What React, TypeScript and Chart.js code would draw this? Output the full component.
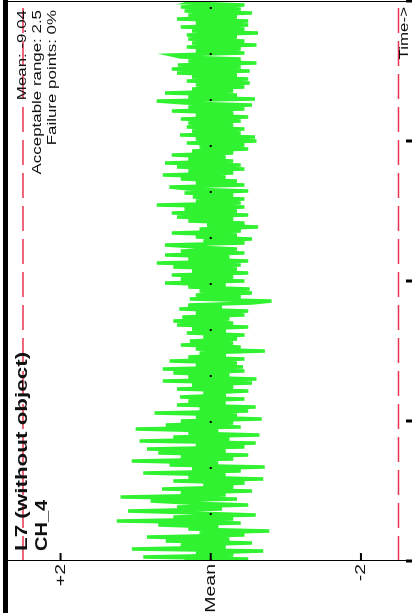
import React, { useEffect, useRef } from "react";
import { Chart, registerables } from "chart.js";

Chart.register(...registerables);

// Measured signal (deviation from mean), in time order
const series: number[] = [
  0.35, -0.5, 0.9, -0.3, 0.2, -0.7, 1.05, -0.2, 0.4, -0.55,
  0.6, -0.25, 0.85, -0.45, 0.15, -0.78, 0.3, -0.1, 0.7, -0.4,
  1.25, -0.3, 0.5, -0.6, 0.2, 1.1, -0.15, 0.45, -0.5, 0.3,
  0.8, -0.35, 1.2, -0.2, 0.4, -0.55, 0.65, -0.3, 0.1, -0.45,
  0.5, -0.7, 0.3, -0.2, 0.9, -0.4, 0.25, -0.72, 0.55, -0.1,
  1.05, -0.3, 0.4, -0.5, 0.7, -0.2, 0.85, -0.45, 0.2, -0.6,
  0.95, -0.25, 0.5, -0.65, 0.3, -0.1, 1.0, -0.4, 0.6, -0.3,
  0.4, -0.68, 0.2, -0.35, 0.75, -0.5, 0.15, -0.6, 0.45, -0.2,
  0.3, -0.45, 0.41, -0.2, 0.1, -0.5, 0.45, -0.3, 0.25, -0.55,
  0.64, -0.61, 0.3, -0.25, 0.5, -0.45, 0.64, -0.43, 0.2, -0.35,
  0.55, -0.45, 0.3, -0.2, 0.15, -0.72, 0.2, -0.4, 0.4, -0.3,
  0.28, -0.35, 0.1, -0.45, 0.32, -0.2, 0.25, -0.5, 0.45, -0.3,
  0.5, -0.25, 0.38, -0.45, 0.2, -0.5, 0.42, -0.15, 0.3, -0.55,
  -0.81, 0.28, -0.4, 0.2, -0.55, 0.15, -0.52, 0.3, -0.2, 0.61,
  -0.45, 0.4, -0.3, 0.52, -0.5, 0.25, -0.35, 0.5, -0.4, 0.72,
  -0.5, 0.3, -0.25, 0.61, -0.45, 0.4, -0.35, 0.2, 0.61, -0.45,
  0.1, -0.55, 0.2, -0.35, 0.52, -0.4, 0.15, -0.63, 0.05, -0.45,
  0.3, -0.3, 0.45, -0.5, 0.52, -0.35, 0.35, -0.45, 0.72, -0.4,
  0.2, -0.45, 0.24, -0.3, 0.35, -0.5, 0.3, 0.55, -0.45, 0.2,
  -0.35, 0.4, -0.2, 0.64, -0.3, 0.3, -0.45, 0.45, -0.4, 0.61,
  -0.3, 0.3, -0.2, 0.52, -0.3, 0.25, -0.5, 0.15, -0.45, 0.32,
  -0.61, 0.2, -0.59, 0.41, -0.4, 0.25, -0.45, 0.32, -0.3, 0.3,
  -0.4, 0.4, -0.5, 0.2, -0.3, 0.52, -0.45, 0.3, -0.55, 0.35,
  0.72, -0.59, 0.3, -0.35, 0.61, -0.3, 0.25, -0.45, 0.2, -0.52,
  0.32, -0.5, 0.25, -0.35, 0.45, -0.52, 0.52, -0.4, 0.44, -0.61,
  0.3, -0.4, 0.4, 0.52, -0.45, 0.2, -0.4, 0.32, -0.61, 0.25,
  -0.45, 0.3, -0.35, 0.32, -0.63, 0.25, -0.45, 0.4, -0.5, 0.2,
  -0.5, 0.45, -0.35, 0.3, -0.55, 0.35, -0.4, 0.4, -0.45, 0.3, 0.2,
];

const meanValue = 0;
const limitHigh = 2.5;
const limitLow = -2.5;
const yMin = -2.6;
const yMax = 2.7;
const yTickValues = [2, 0, -2];
const yTickLabels = ["+2", "Mean", "-2"];
const lastIndex = series.length - 1;
const timeTicks = [0, 70, 140, 210, 280];

const titleText = "L7 (without object)";
const channelText = "CH_4";
const infoLines = ["Mean: -9.04", "Acceptable range: 2.5", "Failure points: 0%"];
const timeLabel = "Time->";

const FONT = '"Liberation Sans", Arial, sans-serif';

function stretchText(
  ctx: CanvasRenderingContext2D,
  text: string,
  x: number,
  y: number,
  font: string,
  align: CanvasTextAlign,
  baseline: CanvasTextBaseline,
  sx: number
) {
  ctx.save();
  ctx.translate(x, y);
  ctx.scale(sx, 1);
  ctx.font = font;
  ctx.textAlign = align;
  ctx.textBaseline = baseline;
  ctx.fillStyle = "#111";
  ctx.fillText(text, 0, 0);
  ctx.restore();
}

const overlay = {
  id: "overlay",
  afterDraw(chart: any) {
    const ctx: CanvasRenderingContext2D = chart.ctx;
    const { left, right, top, bottom } = chart.chartArea;
    const xs = chart.scales.x;
    const ys = chart.scales.y;
    const H = chart.height;
    ctx.save();
    ctx.fillStyle = "#000";
    ctx.fillRect(0, 3, chart.width, 5);
    ctx.strokeStyle = "#000";
    ctx.lineWidth = 1;
    ctx.beginPath();
    ctx.moveTo(left + 0.5, top);
    ctx.lineTo(left + 0.5, H);
    ctx.moveTo(right - 0.5, top);
    ctx.lineTo(right - 0.5, H);
    ctx.stroke();
    ctx.lineWidth = 3;
    timeTicks.forEach((t) => {
      const px = xs.getPixelForValue(t);
      ctx.beginPath();
      ctx.moveTo(px, bottom);
      ctx.lineTo(px, H);
      ctx.stroke();
    });
    ctx.lineWidth = 2;
    yTickValues.forEach((v, i) => {
      const py = ys.getPixelForValue(v);
      ctx.beginPath();
      ctx.moveTo(left, py);
      ctx.lineTo(left + 8, py);
      ctx.stroke();
      stretchText(ctx, yTickLabels[i], left - 3, py, `15px ${FONT}`, "right", "middle", 1.3);
    });
    ctx.restore();

    stretchText(ctx, titleText, left + 10, 27, `bold 16px ${FONT}`, "left", "alphabetic", 1.4);
    stretchText(ctx, channelText, left + 10, 47, `bold 16px ${FONT}`, "left", "alphabetic", 1.25);
    infoLines.forEach((line, i) => {
      stretchText(ctx, line, right - 9, 26 + i * 15, `13px ${FONT}`, "right", "alphabetic", 1.3);
    });
    stretchText(ctx, timeLabel, right - 6, 408, `13px ${FONT}`, "right", "alphabetic", 1.3);
  },
};

export default function App() {
  const canvasRef = useRef<HTMLCanvasElement | null>(null);

  useEffect(() => {
    const canvas = canvasRef.current;
    if (!canvas) return;
    const points = series.map((v, i) => ({ x: i, y: v }));
    const span = (v: number) => [
      { x: 0, y: v },
      { x: lastIndex, y: v },
    ];
    const chart = new Chart(canvas, {
      type: "line",
      data: {
        datasets: [
          {
            data: span(meanValue),
            borderColor: "#000",
            borderWidth: 2,
            borderDash: [2, 44],
            pointRadius: 0,
          },
          {
            data: points,
            borderColor: "rgb(48,242,48)",
            borderWidth: 3.5,
            pointRadius: 0,
            tension: 0,
          },
          {
            data: span(limitHigh),
            borderColor: "#e8344f",
            borderWidth: 1.5,
            borderDash: [25, 8],
            pointRadius: 0,
          },
          {
            data: span(limitLow),
            borderColor: "#e8344f",
            borderWidth: 1.5,
            borderDash: [25, 8],
            pointRadius: 0,
          },
        ],
      },
      options: {
        animation: false,
        responsive: false,
        maintainAspectRatio: false,
        devicePixelRatio: 1,
        parsing: false as any,
        layout: { padding: { left: 52, right: 1, top: 8, bottom: 6 } },
        scales: {
          x: { type: "linear", display: false, min: 0, max: lastIndex },
          y: { type: "linear", display: false, min: yMin, max: yMax },
        },
        plugins: {
          legend: { display: false },
          tooltip: { enabled: false },
        },
        elements: { line: { borderCapStyle: "butt" } },
      },
      plugins: [overlay],
    });
    return () => chart.destroy();
  }, []);

  return (
    <div
      style={{
        position: "fixed",
        left: 0,
        top: 0,
        width: 412,
        height: 613,
        overflow: "hidden",
        background: "#fff",
      }}
    >
      <div
        style={{
          position: "absolute",
          left: 0,
          top: 0,
          width: 613,
          height: 412,
          transformOrigin: "0 0",
          transform: "translateY(613px) rotate(-90deg)",
        }}
      >
        <canvas
          ref={canvasRef}
          width={613}
          height={412}
          style={{ display: "block", width: 613, height: 412 }}
        />
      </div>
    </div>
  );
}
